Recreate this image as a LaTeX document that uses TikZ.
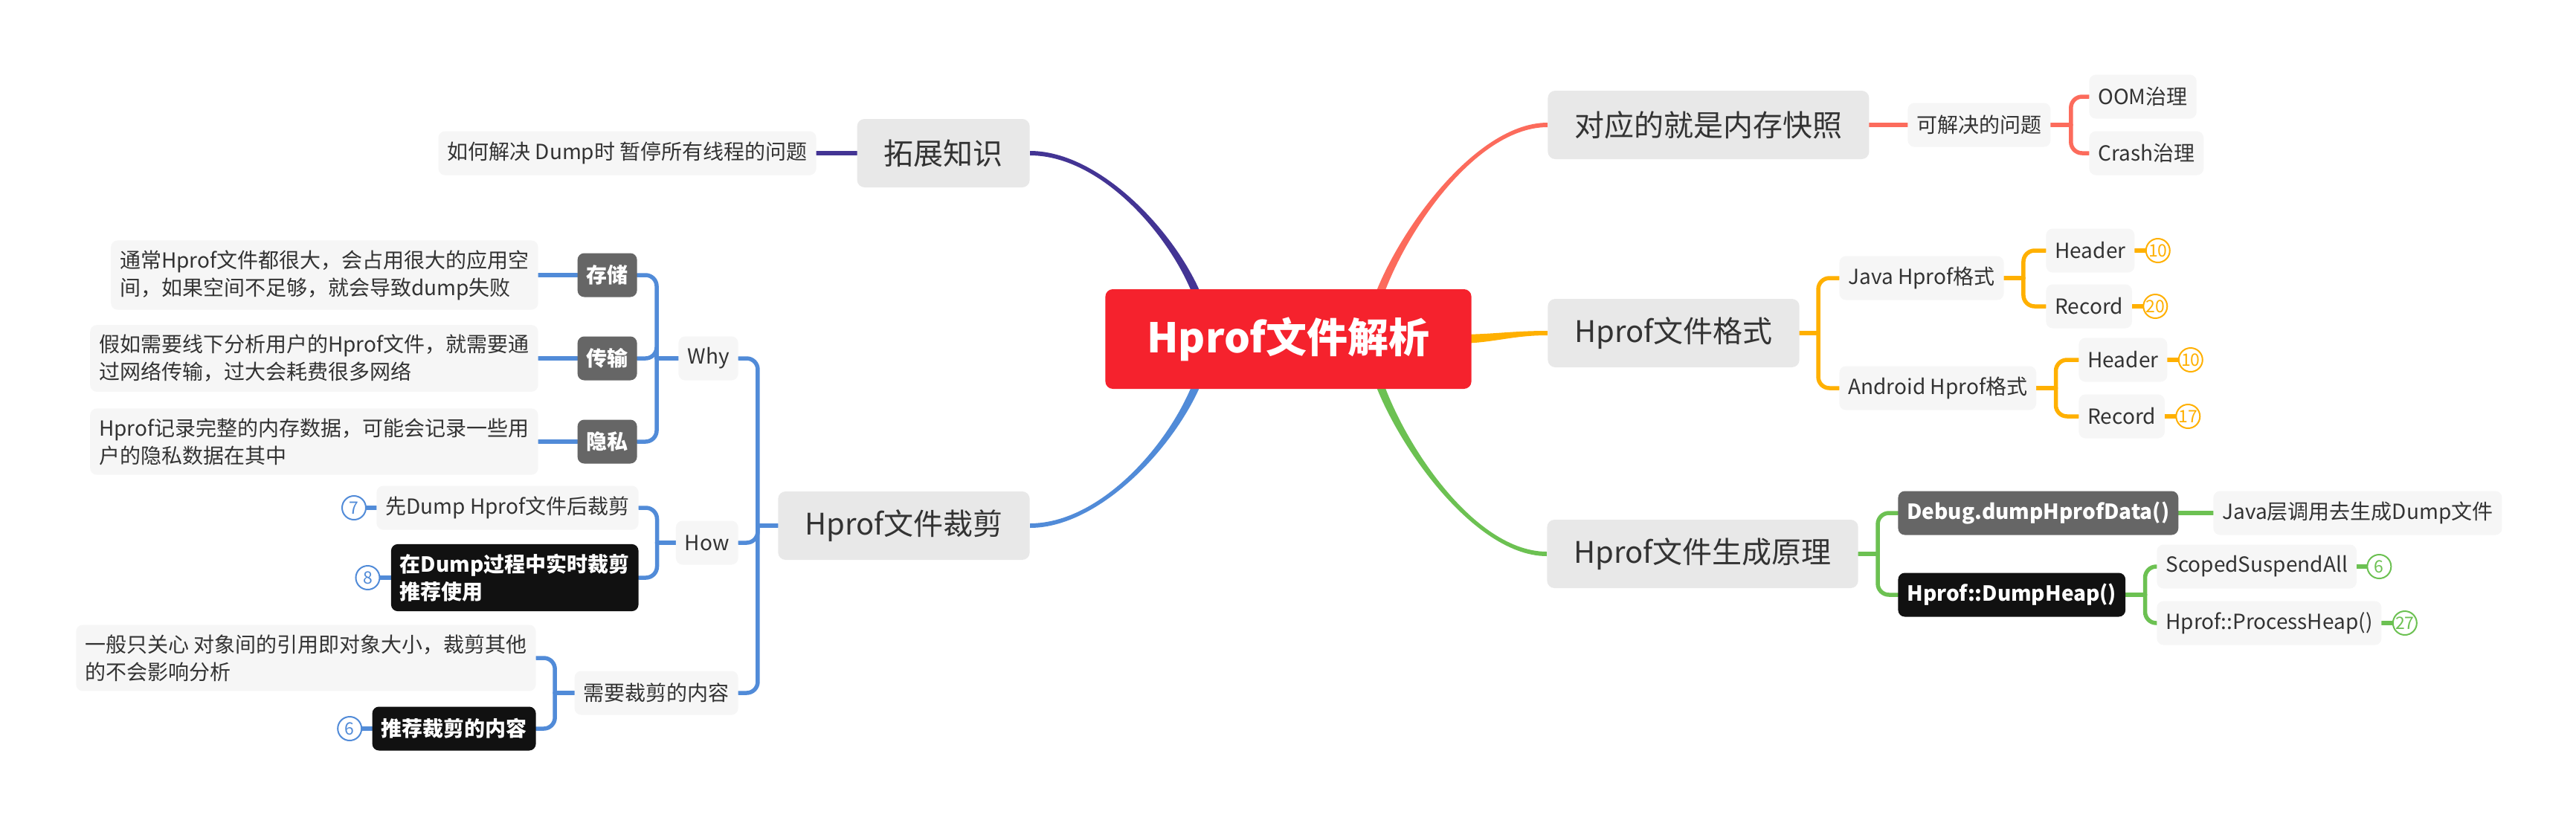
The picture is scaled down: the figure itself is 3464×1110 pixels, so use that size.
\documentclass[tikz,border=0pt]{standalone}
\usepackage{fontspec}
\setmainfont{Noto Sans CJK SC}
\usetikzlibrary{positioning,calc,backgrounds}

\definecolor{rootColor}{RGB}{245,34,45}
\definecolor{purpleColor}{RGB}{67,52,148}
\definecolor{salmonColor}{RGB}{252,107,92}
\definecolor{orangeColor}{RGB}{255,176,0}
\definecolor{greenColor}{RGB}{108,193,82}
\definecolor{blueColor}{RGB}{81,139,216}
\definecolor{topicFill}{RGB}{232,232,232}
\definecolor{subFill}{RGB}{246,246,246}
\definecolor{darkFill}{RGB}{102,102,102}
\definecolor{blackFill}{RGB}{17,17,17}
\definecolor{textColor}{RGB}{51,51,51}

\tikzset{
  root/.style={fill=rootColor, text=white, font=\fontsize{27.5}{33}\selectfont\bfseries,
    rounded corners=5pt, minimum height=67pt, inner xsep=28pt},
  topic/.style={fill=topicFill, text=textColor, font=\fontsize{20}{24}\selectfont,
    rounded corners=5pt, minimum height=46pt, inner xsep=18pt},
  sub/.style={fill=subFill, text=textColor, font=\fontsize{14}{18.5}\selectfont,
    rounded corners=4.5pt, minimum height=29.5pt, inner xsep=6pt, inner ysep=6.5pt, align=left},
  dark/.style={sub, fill=darkFill, text=white, font=\fontsize{14}{18.5}\selectfont\bfseries},
  blackbox/.style={sub, fill=blackFill, text=white, font=\fontsize{14}{18.5}\selectfont\bfseries},
  badge/.style={circle, draw=#1, fill=white, text=#1, line width=1pt, minimum size=16pt,
    inner sep=0pt, font=\fontsize{11.5}{11.5}\selectfont},
  link/.style={draw=#1, line width=2.75pt, rounded corners=7.5pt, line cap=round},
}

% tapered branch: colour, from, to, control 1, control 2, half width at start, half width at end
\newcommand\branch[7]{\fill[#1] ($(#2)+(#6)$) .. controls +(#4) and +(#5) .. ($(#3)+(#7)$)
  -- ($(#3)-(#7)$) .. controls +(#5) and +(#4) .. ($(#2)-(#6)$) -- cycle;}

\begin{document}
\begin{tikzpicture}[x=0.5pt,y=-0.5pt]
\useasboundingbox (0,0) rectangle (3464,1110);

\node[root] (root) at (1732.5,456) {Hprof文件解析};

% left side
\node[topic,anchor=east] (ext) at (1385,206) {拓展知识};
\node[sub,anchor=east] (extQ) at (1098,206) {如何解决 Dump时 暂停所有线程的问题};

\node[topic,anchor=east] (cut) at (1385,707) {Hprof文件裁剪};
\node[sub,anchor=east] (why) at (993,482) {Why};
\node[sub,anchor=east] (how) at (993,730) {How};
\node[sub,anchor=east] (need) at (993,932) {需要裁剪的内容};

\node[dark,anchor=east] (store) at (857,370) {存储};
\node[dark,anchor=east] (trans) at (857,482) {传输};
\node[dark,anchor=east] (privacy) at (857,594) {隐私};
\node[sub,anchor=east] (storeTxt) at (724,370) {通常Hprof文件都很大，会占用很大的应用空\\间，如果空间不足够，就会导致dump失败};
\node[sub,anchor=east] (transTxt) at (724,482) {假如需要线下分析用户的Hprof文件，就需要通\\过网络传输，过大会耗费很多网络};
\node[sub,anchor=east] (privacyTxt) at (724,594) {Hprof记录完整的内存数据，可能会记录一些用\\户的隐私数据在其中};

\node[sub,anchor=east] (howAfter) at (859,683) {先Dump Hprof文件后裁剪};
\node[blackbox,anchor=east] (howLive) at (859,777) {在Dump过程中实时裁剪\\推荐使用};
\node[badge=blueColor,left=6.5pt of howAfter] (badgeSeven) {7};
\node[badge=blueColor,left=7pt of howLive] (badgeEight) {8};

\node[sub,anchor=east] (needRef) at (721,885) {一般只关心 对象间的引用即对象大小，裁剪其他\\的不会影响分析};
\node[blackbox,anchor=east] (needRec) at (721,980) {推荐裁剪的内容};
\node[badge=blueColor,left=6.5pt of needRec] (badgeSix) {6};

% right side
\node[topic,anchor=west] (snap) at (2081,168) {对应的就是内存快照};
\node[sub,anchor=west] (snapQ) at (2565,168) {可解决的问题};
\node[sub,anchor=west] (oom) at (2809,130) {OOM治理};
\node[sub,anchor=west] (crash) at (2809,206) {Crash治理};

\node[topic,anchor=west] (fmt) at (2081,448) {Hprof文件格式};
\node[sub,anchor=west] (java) at (2473,374) {Java Hprof格式};
\node[sub,anchor=west] (android) at (2473,522) {Android Hprof格式};
\node[sub,anchor=west] (javaHead) at (2751,337) {Header};
\node[sub,anchor=west] (javaRec) at (2751,412) {Record};
\node[sub,anchor=west] (andHead) at (2795,484) {Header};
\node[sub,anchor=west] (andRec) at (2795,560) {Record};
\node[badge=orangeColor,right=7pt of javaHead] (badgeJH) {10};
\node[badge=orangeColor,right=7pt of javaRec] (badgeJR) {20};
\node[badge=orangeColor,right=7pt of andHead] (badgeAH) {10};
\node[badge=orangeColor,right=7pt of andRec] (badgeAR) {17};

\node[topic,anchor=west] (gen) at (2080,745) {Hprof文件生成原理};
\node[dark,anchor=west] (dbg) at (2552,690) {Debug.dumpHprofData()};
\node[sub,anchor=west] (dbgTxt) at (2976,690) {Java层调用去生成Dump文件};
\node[blackbox,anchor=west] (heap) at (2552,800) {Hprof::DumpHeap()};
\node[sub,anchor=west] (suspend) at (2900,762) {ScopedSuspendAll};
\node[sub,anchor=west] (process) at (2900,838) {Hprof::ProcessHeap()};
\node[badge=greenColor,right=6.5pt of suspend] (badgeSus) {6};
\node[badge=greenColor,right=7pt of process] (badgeProc) {27};

\begin{scope}[on background layer]
\fill[white] (0,0) rectangle (3464,1110);

\coordinate (rootNW) at ($(root.center)+(-112,-26)$);
\coordinate (rootNE) at ($(root.center)+(112,-26)$);
\coordinate (rootSW) at ($(root.center)+(-112,26)$);
\coordinate (rootSE) at ($(root.center)+(112,26)$);
\coordinate (rootE) at ($(root.center)+(225,0)$);

\branch{purpleColor}{rootNW}{ext.east}{-20,-90}{105,0}{-6,0}{0,3}
\branch{salmonColor}{rootNE}{snap.west}{20,-90}{-105,0}{-6,0}{0,-3}
\branch{orangeColor}{rootE}{fmt.west}{50,0}{-50,0}{0,-6}{0,-3}
\branch{greenColor}{rootSE}{gen.west}{20,90}{-105,0}{-6,0}{0,3}
\branch{blueColor}{rootSW}{cut.east}{-20,90}{105,0}{-6,0}{0,-3}

\draw[link=purpleColor] (ext.west) -- (extQ.east);

\draw[link=blueColor] (cut.west) -- ++(-27,0) coordinate (cutFork);
\foreach \n in {why,how,need} \draw[link=blueColor] (cutFork) |- (\n.east);
\draw[link=blueColor] (why.west) -- ++(-29,0) coordinate (whyFork);
\foreach \n in {store,trans,privacy} \draw[link=blueColor] (whyFork) |- (\n.east);
\draw[link=blueColor] (store.west) -- (storeTxt.east);
\draw[link=blueColor] (trans.west) -- (transTxt.east);
\draw[link=blueColor] (privacy.west) -- (privacyTxt.east);
\draw[link=blueColor] (how.west) -- ++(-25,0) coordinate (howFork);
\foreach \n in {howAfter,howLive} \draw[link=blueColor] (howFork) |- (\n.east);
\draw[link=blueColor] (need.west) -- ++(-26,0) coordinate (needFork);
\foreach \n in {needRef,needRec} \draw[link=blueColor] (needFork) |- (\n.east);
\draw[link=blueColor] (howAfter.west) -- (badgeSeven.east);
\draw[link=blueColor] (howLive.west) -- (badgeEight.east);
\draw[link=blueColor] (needRec.west) -- (badgeSix.east);

\draw[link=salmonColor] (snap.east) -- (snapQ.west);
\draw[link=salmonColor] (snapQ.east) -- ++(27,0) coordinate (snapFork);
\foreach \n in {oom,crash} \draw[link=salmonColor] (snapFork) |- (\n.west);

\draw[link=orangeColor] (fmt.east) -- ++(25,0) coordinate (fmtFork);
\foreach \n in {java,android} \draw[link=orangeColor] (fmtFork) |- (\n.west);
\draw[link=orangeColor] (java.east) -- ++(26,0) coordinate (javaFork);
\foreach \n in {javaHead,javaRec} \draw[link=orangeColor] (javaFork) |- (\n.west);
\draw[link=orangeColor] (android.east) -- ++(26,0) coordinate (andFork);
\foreach \n in {andHead,andRec} \draw[link=orangeColor] (andFork) |- (\n.west);
\draw[link=orangeColor] (javaHead.east) -- (badgeJH.west);
\draw[link=orangeColor] (javaRec.east) -- (badgeJR.west);
\draw[link=orangeColor] (andHead.east) -- (badgeAH.west);
\draw[link=orangeColor] (andRec.east) -- (badgeAR.west);

\draw[link=greenColor] (gen.east) -- ++(26,0) coordinate (genFork);
\foreach \n in {dbg,heap} \draw[link=greenColor] (genFork) |- (\n.west);
\draw[link=greenColor] (dbg.east) -- (dbgTxt.west);
\draw[link=greenColor] (heap.east) -- ++(26,0) coordinate (heapFork);
\foreach \n in {suspend,process} \draw[link=greenColor] (heapFork) |- (\n.west);
\draw[link=greenColor] (suspend.east) -- (badgeSus.west);
\draw[link=greenColor] (process.east) -- (badgeProc.west);
\end{scope}
\end{tikzpicture}
\end{document}
